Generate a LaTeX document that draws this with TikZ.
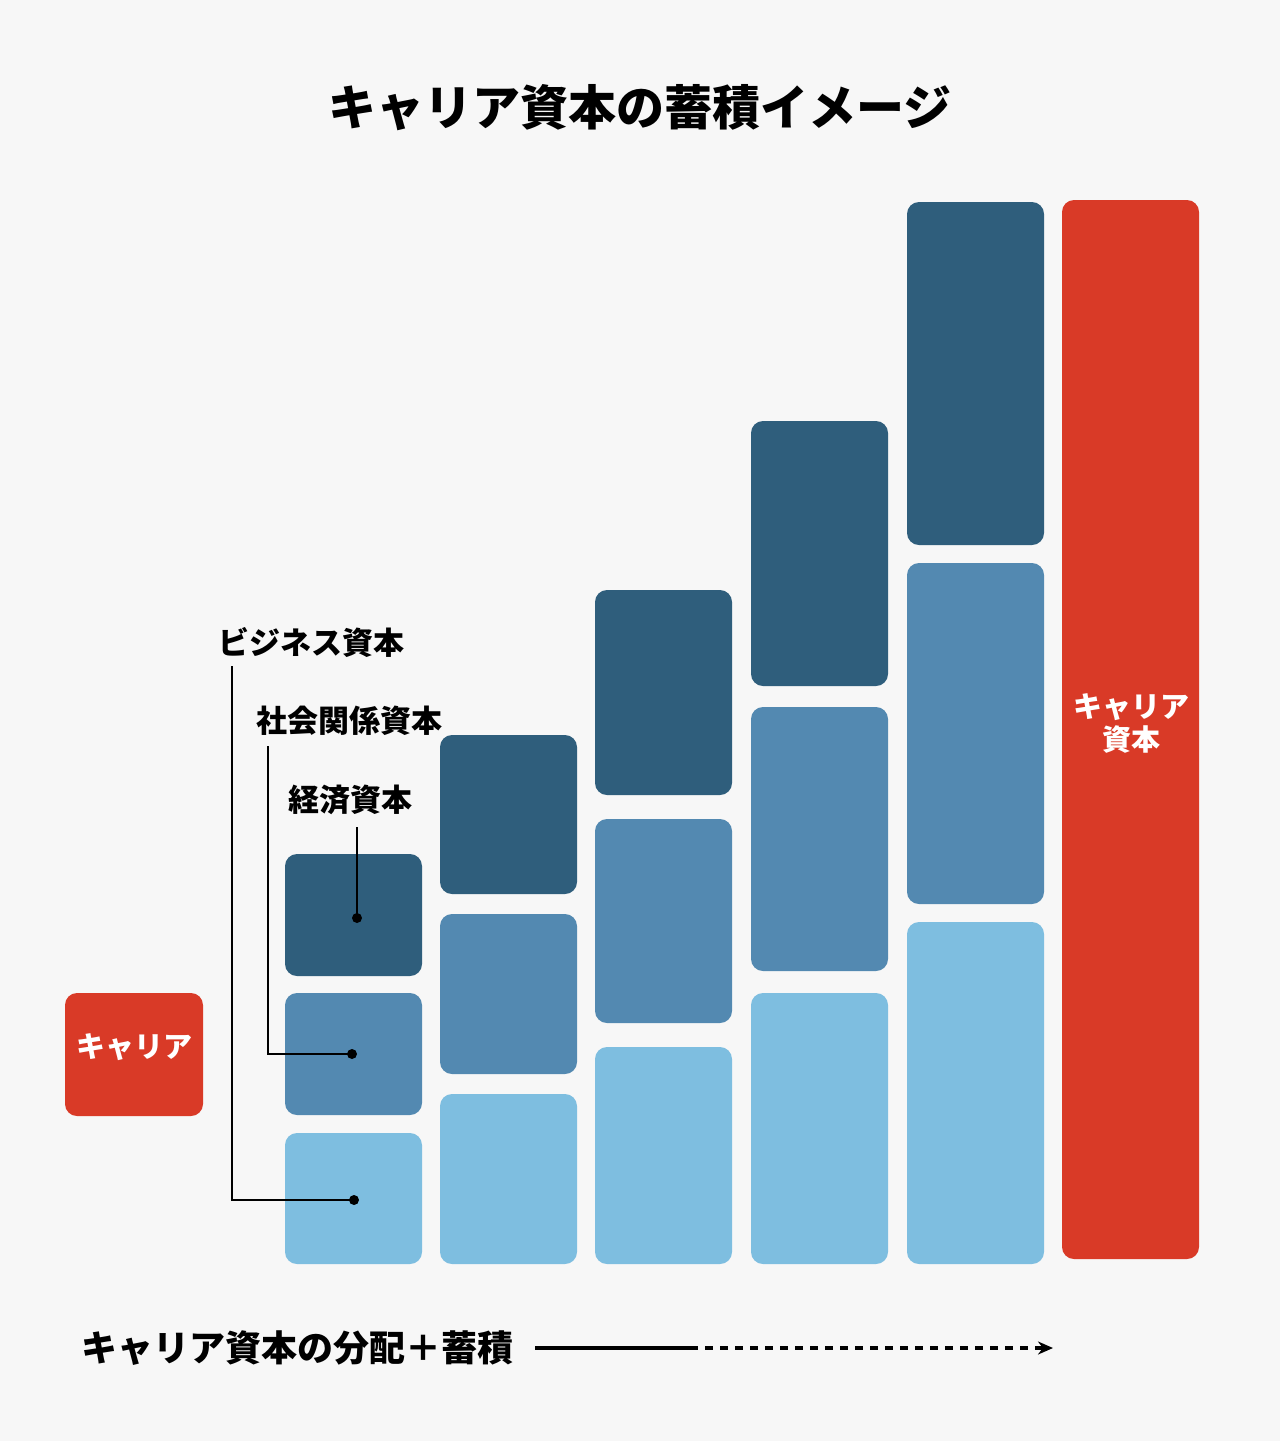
\documentclass[tikz,border=0pt]{standalone}
\usepackage{fontspec}
\setmainfont{Noto Sans CJK JP}
\usetikzlibrary{arrows.meta}
\definecolor{bg}{HTML}{F7F7F7}
\definecolor{cdark}{HTML}{2F5E7C}
\definecolor{cmid}{HTML}{5389B1}
\definecolor{clight}{HTML}{7EBEE0}
\definecolor{cred}{HTML}{D93A27}
\begin{document}
\begin{tikzpicture}[x=0.5pt,y=-0.5pt,
  box/.style={rectangle,rounded corners=6pt,inner sep=0pt,draw=none,minimum width=68.5pt},
  dk/.style={box,fill=cdark},
  md/.style={box,fill=cmid},
  lt/.style={box,fill=clight},
  rd/.style={box,fill=cred},
  redtext/.style={inner sep=0pt,text=white,font=\bfseries\fontsize{14.5pt}{16.5pt}\selectfont,align=center},
  lbl/.style={inner sep=0pt,font=\bfseries\fontsize{15.5pt}{18pt}\selectfont},
  lead/.style={line width=1pt,black},
  dot/.style={fill=black,draw=none}]
\fill[bg] (0,0) rectangle (1280,1441);
\useasboundingbox (0,0) rectangle (1280,1441);
% title
\node[inner sep=0pt,font=\bfseries\fontsize{24pt}{27pt}\selectfont] (title) at (640,108) {キャリア資本の蓄積イメージ};
% column 1
\node[dk,minimum height=61pt] (c1d) at (353.5,915) {};
\node[md,minimum height=61pt] (c1m) at (353.5,1054) {};
\node[lt,minimum height=65.5pt] (c1l) at (353.5,1198.5) {};
% column 2
\node[dk,minimum height=79.5pt] (c2d) at (508.5,814.5) {};
\node[md,minimum height=80pt] (c2m) at (508.5,994) {};
\node[lt,minimum height=85pt] (c2l) at (508.5,1179) {};
% column 3
\node[dk,minimum height=102.5pt] (c3d) at (663.5,692.5) {};
\node[md,minimum height=102pt] (c3m) at (663.5,921) {};
\node[lt,minimum height=108.5pt] (c3l) at (663.5,1155.5) {};
% column 4
\node[dk,minimum height=132.5pt] (c4d) at (819.5,553.5) {};
\node[md,minimum height=132pt] (c4m) at (819.5,839) {};
\node[lt,minimum height=135.5pt] (c4l) at (819.5,1128.5) {};
% column 5
\node[dk,minimum height=171.5pt] (c5d) at (975.5,373.5) {};
\node[md,minimum height=170.5pt] (c5m) at (975.5,733.5) {};
\node[lt,minimum height=171pt] (c5l) at (975.5,1093) {};
% red boxes
\node[rd,minimum height=529.5pt] (capital) at (1130.5,729.5) {};
\node[redtext] (captext) at (1131,723) {キャリア\\資本};
\node[rd,minimum width=69pt,minimum height=61.5pt] (career) at (134,1054.5) {};
\node[redtext] (careertext) at (134,1047) {キャリア};
% labels
\node[lbl] (lbiz) at (311.5,642) {ビジネス資本};
\node[lbl] (lsoc) at (349,721) {社会関係資本};
\node[lbl] (lecon) at (350,800) {経済資本};
% leader lines
\coordinate (bizs) at (232,666);
\coordinate (bizd) at (354,1200);
\coordinate (socs) at (268,746);
\coordinate (socd) at (352,1054);
\coordinate (econs) at (357,827);
\coordinate (econd) at (357,918);
\draw[lead] (bizs) |- (bizd);
\draw[lead] (socs) |- (socd);
\draw[lead] (econs) -- (econd);
\fill[dot] (bizd) circle[radius=2.5pt];
\fill[dot] (socd) circle[radius=2.5pt];
\fill[dot] (econd) circle[radius=2.5pt];
% bottom caption and arrow
\node[inner sep=0pt,anchor=west,font=\bfseries\fontsize{18pt}{21pt}\selectfont] (caption) at (81,1348) {キャリア資本の分配＋蓄積};
\coordinate (a0) at (535,1348);
\coordinate (a1) at (690,1348);
\coordinate (a2) at (1053,1348);
\draw[line width=1.6pt] (a0) -- (a1);
\draw[line width=1.6pt,dash pattern=on 4pt off 3.5pt,-{Stealth[length=7.5pt,width=6.5pt]}] (a1) -- (a2);
\end{tikzpicture}
\end{document}
